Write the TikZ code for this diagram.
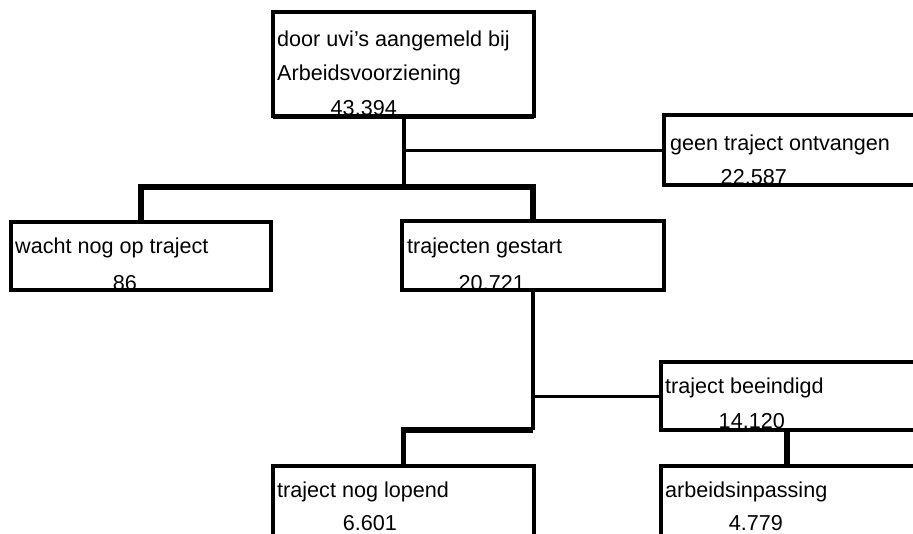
\documentclass[tikz,border=0pt]{standalone}
\usepackage{fontspec}
\setmainfont{Liberation Sans}
\tikzset{
  boxn/.style={draw, line width=3.3pt, inner sep=0pt, outer sep=0pt, anchor=north west},
  lbl/.style={font=\fontsize{21.6}{26}\selectfont, inner sep=0pt, anchor=base west},
  num/.style={font=\fontsize{21.6}{26}\selectfont, inner sep=0pt, anchor=base east},
  trunk/.style={line width=4pt},
  barline/.style={line width=5.5pt},
  twig/.style={line width=3pt},
}
\begin{document}
\begin{tikzpicture}[x=1pt,y=-1pt]
\useasboundingbox (0,0) rectangle (913,533);
\clip (0,0) rectangle (913,533);
\fill[white] (0,0) rectangle (913,533);
% boxes
\node[boxn, minimum width=261pt, minimum height=104pt] (top) at (273,12) {};
\node[boxn, minimum width=262pt, minimum height=70pt] (geen) at (664,115) {};
\node[boxn, minimum width=260pt, minimum height=68pt] (wacht) at (11,222) {};
\node[boxn, minimum width=262pt, minimum height=69pt] (traj) at (402,221) {};
\node[boxn, minimum width=262pt, minimum height=68pt] (beeind) at (661,362) {};
\node[boxn, minimum width=261pt, minimum height=100pt] (lopend) at (273,466) {};
\node[boxn, minimum width=262pt, minimum height=100pt] (arbeid) at (661,466) {};
\draw[line width=5pt] (top.south west) -- (top.south east);
\coordinate (bar1) at (0,187);
% connectors, first level
\draw[trunk] (top.south) -- (top.south |- bar1);
\draw[twig] (top.south |- geen.west) -- (geen.west);
\draw[barline] (wacht.north) -- (wacht.north |- bar1) -- (traj.north |- bar1) -- (traj.north);
% connectors, second level
\draw[trunk] (traj.south) -- (traj.south |- beeind.south);
\draw[twig] (traj.south |- beeind.west) -- (beeind.west);
\draw[barline] (lopend.north) -- (lopend.north |- beeind.south) -- (traj.south |- beeind.south);
\draw[barline] ([xshift=126pt]beeind.south west) -- ([xshift=126pt]arbeid.north west);
% texts
\node[lbl] (topA) at ([shift={(4,34)}]top.north west) {door uvi's aangemeld bij};
\node[lbl] (topB) at ([shift={(4,68)}]top.north west) {Arbeidsvoorziening};
\node[num] (topN) at ([shift={(124,103)}]top.north west) {43.394};
\node[lbl] (geenA) at ([shift={(6,35)}]geen.north west) {geen traject ontvangen};
\node[num] (geenN) at ([shift={(123,69)}]geen.north west) {22.587};
\node[lbl] (wachtA) at ([shift={(4,31)}]wacht.north west) {wacht nog op traject};
\node[num] (wachtN) at ([shift={(126,68)}]wacht.north west) {86};
\node[lbl] (trajA) at ([shift={(5,32)}]traj.north west) {trajecten gestart};
\node[num] (trajN) at ([shift={(123,69)}]traj.north west) {20.721};
\node[lbl] (beeindA) at ([shift={(4,31)}]beeind.north west) {traject beeindigd};
\node[num] (beeindN) at ([shift={(124,66)}]beeind.north west) {14.120};
\node[lbl] (lopendA) at ([shift={(4,31)}]lopend.north west) {traject nog lopend};
\node[num] (lopendN) at ([shift={(124,64)}]lopend.north west) {6.601};
\node[lbl] (arbeidA) at ([shift={(4,31)}]arbeid.north west) {arbeidsinpassing};
\node[num] (arbeidN) at ([shift={(122,64)}]arbeid.north west) {4.779};
\end{tikzpicture}
\end{document}
